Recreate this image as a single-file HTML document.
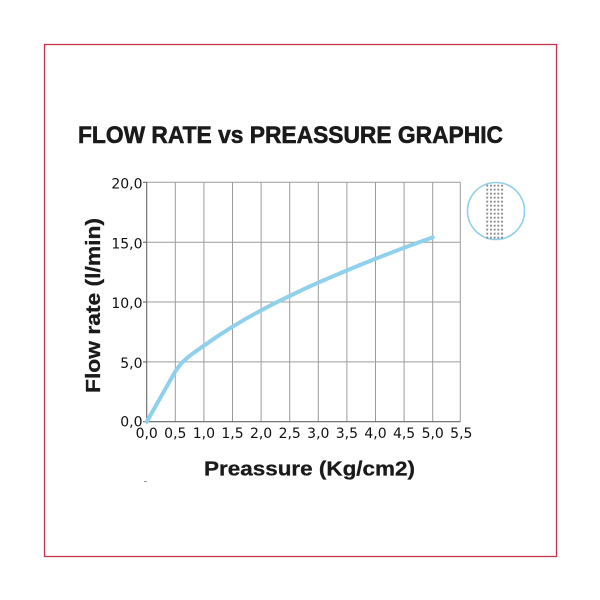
<!DOCTYPE html>
<html>
<head>
<meta charset="utf-8">
<style>
html,body{margin:0;padding:0;background:#fff;}
svg{display:block;}
</style>
</head>
<body>
<svg width="600" height="600" viewBox="0 0 600 600" xmlns="http://www.w3.org/2000/svg">
<defs>
  <pattern id="dots" x="485.8" y="184" width="3.7" height="4" patternUnits="userSpaceOnUse">
    <rect x="0.5" y="0.7" width="1.9" height="1.9" fill="#8a8a8a"/>
  </pattern>
</defs>
<rect x="0" y="0" width="600" height="600" fill="#ffffff"/>
<!-- frame -->
<rect x="44.5" y="44.5" width="512" height="512" fill="none" stroke="#c8354f" stroke-width="1.3"/>

<!-- title -->
<text x="78" y="143" font-family="Liberation Sans, sans-serif" font-weight="bold" font-size="24.5" fill="#1a1a1a" stroke="#1a1a1a" stroke-width="0.6" textLength="425" lengthAdjust="spacingAndGlyphs">FLOW RATE vs PREASSURE GRAPHIC</text>

<!-- grid -->
<g stroke="#9c9c9c" stroke-width="1" fill="none">
  <line x1="175.3" y1="182.3" x2="175.3" y2="421.7"/>
  <line x1="203.9" y1="182.3" x2="203.9" y2="421.7"/>
  <line x1="232.5" y1="182.3" x2="232.5" y2="421.7"/>
  <line x1="261.1" y1="182.3" x2="261.1" y2="421.7"/>
  <line x1="289.7" y1="182.3" x2="289.7" y2="421.7"/>
  <line x1="318.3" y1="182.3" x2="318.3" y2="421.7"/>
  <line x1="346.9" y1="182.3" x2="346.9" y2="421.7"/>
  <line x1="375.5" y1="182.3" x2="375.5" y2="421.7"/>
  <line x1="404.1" y1="182.3" x2="404.1" y2="421.7"/>
  <line x1="432.7" y1="182.3" x2="432.7" y2="421.7"/>
  <line x1="460.3" y1="182.3" x2="460.3" y2="421.7"/>
  <line x1="146.7" y1="182.3" x2="460.3" y2="182.3"/>
  <line x1="146.7" y1="242.2" x2="460.3" y2="242.2"/>
  <line x1="146.7" y1="302.0" x2="460.3" y2="302.0"/>
  <line x1="146.7" y1="361.9" x2="460.3" y2="361.9"/>
</g>
<!-- axes -->
<g stroke="#666666" stroke-width="1.1" fill="none">
  <line x1="146.7" y1="182.3" x2="146.7" y2="421.7"/>
  <line x1="146.7" y1="421.7" x2="460.3" y2="421.7"/>
  <line x1="143" y1="182.3" x2="146.7" y2="182.3"/>
  <line x1="143" y1="242.2" x2="146.7" y2="242.2"/>
  <line x1="143" y1="302.0" x2="146.7" y2="302.0"/>
  <line x1="143" y1="361.9" x2="146.7" y2="361.9"/>
  <line x1="143" y1="421.7" x2="146.7" y2="421.7"/>
</g>

<!-- y tick labels -->
<g font-family="DejaVu Sans, sans-serif" font-size="14" fill="#111111" text-anchor="end">
  <text x="142.5" y="188.5">20,0</text>
  <text x="142.5" y="248.4">15,0</text>
  <text x="142.5" y="308.2">10,0</text>
  <text x="142.5" y="368.1">5,0</text>
  <text x="142.5" y="426.5">0,0</text>
</g>
<!-- x tick labels -->
<g font-family="DejaVu Sans, sans-serif" font-size="14" fill="#111111" text-anchor="middle">
  <text x="146.7" y="438">0,0</text>
  <text x="175.3" y="438">0,5</text>
  <text x="203.9" y="438">1,0</text>
  <text x="232.5" y="438">1,5</text>
  <text x="261.1" y="438">2,0</text>
  <text x="289.7" y="438">2,5</text>
  <text x="318.3" y="438">3,0</text>
  <text x="346.9" y="438">3,5</text>
  <text x="375.5" y="438">4,0</text>
  <text x="404.1" y="438">4,5</text>
  <text x="432.7" y="438">5,0</text>
  <text x="461.3" y="438">5,5</text>
</g>

<!-- curve -->
<polyline fill="none" stroke="#8fd0ec" stroke-width="4" stroke-linejoin="round" stroke-linecap="round"
 points="146.7,421.7 161.0,396.6 175.3,371.4 181.0,363.6 186.7,358.3 192.5,353.7 198.2,349.6 203.9,345.7 218.2,335.8 232.5,326.7 246.8,318.2 261.1,310.4 275.4,302.9 289.7,295.9 304.0,289.1 318.3,282.6 332.6,276.4 346.9,270.4 361.2,264.5 375.5,258.8 389.8,253.2 404.1,247.8 418.4,242.5 432.7,237.4"/>

<!-- axis titles -->
<text x="204" y="475.7" font-family="Liberation Sans, sans-serif" font-weight="bold" font-size="20" fill="#1a1a1a" stroke="#1a1a1a" stroke-width="0.3" textLength="211" lengthAdjust="spacingAndGlyphs">Preassure (Kg/cm2)</text>
<text transform="translate(100,305.5) rotate(-90)" x="0" y="0" text-anchor="middle" font-family="Liberation Sans, sans-serif" font-weight="bold" font-size="20" fill="#1a1a1a" stroke="#1a1a1a" stroke-width="0.3" textLength="175" lengthAdjust="spacingAndGlyphs">Flow rate (l/min)</text>

<!-- small mark -->
<line x1="144" y1="481.5" x2="147" y2="481.5" stroke="#999" stroke-width="1"/>

<!-- nozzle circle icon -->
<circle cx="496" cy="211" r="28.5" fill="#ffffff" stroke="#8fd0ec" stroke-width="1.6"/>
<rect x="485.8" y="184" width="18.5" height="56" fill="url(#dots)"/>
</svg>
</body>
</html>
